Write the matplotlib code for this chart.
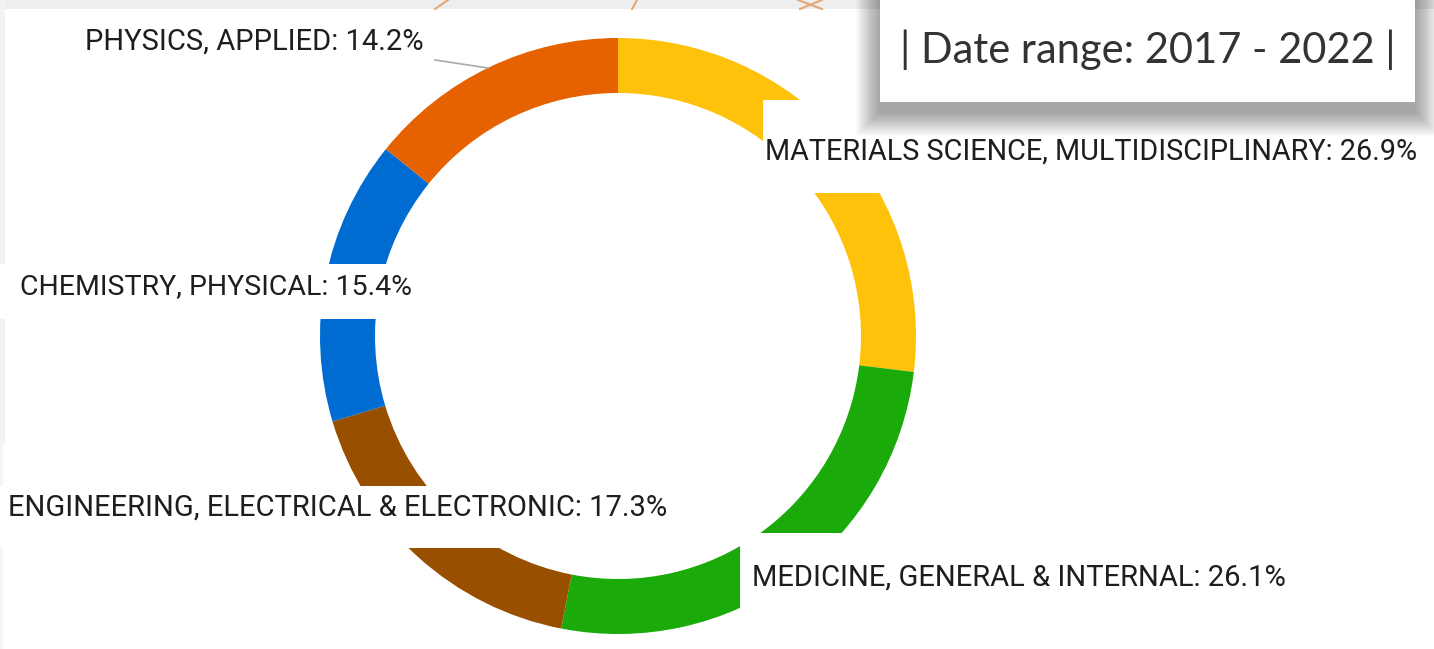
import matplotlib
matplotlib.use("Agg")
import matplotlib.pyplot as plt
from matplotlib.patches import Rectangle
from matplotlib.lines import Line2D

# --- data ---
categories = [
    "MATERIALS SCIENCE, MULTIDISCIPLINARY",
    "MEDICINE, GENERAL & INTERNAL",
    "ENGINEERING, ELECTRICAL & ELECTRONIC",
    "CHEMISTRY, PHYSICAL",
    "PHYSICS, APPLIED",
]
shares = [26.9, 26.1, 17.3, 15.4, 14.2]
colors = ["#FFC20A", "#1AAA0A", "#994F00", "#006CD1", "#E66100"]
date_range = "| Date range: 2017 - 2022 |"

W, H = 1434, 649
fig = plt.figure(figsize=(W / 100, H / 100), dpi=100)
fig.patch.set_facecolor("white")
ax = fig.add_axes([0, 0, 1, 1])

# ring (pixel coords, y pointing down)
cx, cy, R, ring_w = 618, 336, 298, 55
ax.pie(shares, colors=colors, startangle=-90, counterclock=True,
       center=(cx, cy), radius=R,
       wedgeprops=dict(width=ring_w, edgecolor="none", linewidth=0))
ax.set_xlim(0, W)
ax.set_ylim(H, 0)
ax.set_aspect("equal")
ax.axis("off")

# label layout: text anchor (x, y), font size and white background box (x0, y0, x1, y1)
label_font = ["Roboto", "DejaVu Sans"]
label_pos = [
    (765, 152, 20.7, (763, 100, 1434, 193)),
    (752, 578, 21, (740, 533, 1300, 630)),
    (8, 508, 21, (0, 486, 672, 548)),
    (20, 287, 20.5, (0, 264, 415, 319)),
    (85, 42, 21, None),
]
for name, val, (tx, ty, fs, box) in zip(categories, shares, label_pos):
    if box is not None:
        x0, y0, x1, y1 = box
        ax.add_patch(Rectangle((x0, y0), x1 - x0, y1 - y0, facecolor="white",
                               edgecolor="none", zorder=3))
    ax.text(tx, ty, f"{name}: {val}%", ha="left", va="center", fontsize=fs,
            family=label_font, color="#1e1e1e", zorder=4)

# leader line for the physics label
ax.plot([435, 488], [60, 68], color="#aaaaaa", lw=1.2, zorder=4)

# --- page background bits ---
ax.add_patch(Rectangle((0, 0), W, 9, facecolor="#eeeeee", edgecolor="none", zorder=0.5))
ax.add_patch(Rectangle((0, 0), 5, 443, facecolor="#f2f2f2", edgecolor="none", zorder=0.5))
ax.add_patch(Rectangle((0, 443), 3, H - 443, facecolor="#f5f5f5", edgecolor="none", zorder=0.5))
for xs, ys in [([435, 448], [9, 0]), ([632, 637], [9, 0]),
               ([798, 822], [0, 9]), ([800, 822], [9, 0])]:
    ax.add_line(Line2D(xs, ys, color="#e3a877", lw=1.5, zorder=0.6))

# date range box with soft shadow
bx0, by0, bx1, by1 = 880, 0, 1415, 102
for i in range(24):
    g = 24 - i
    ax.add_patch(Rectangle((bx0 - g, by0), bx1 - bx0 + 2 * g, by1 - by0 + g + 10,
                           facecolor="black", alpha=0.016, edgecolor="none", zorder=5))
ax.add_patch(Rectangle((bx0, by0), bx1 - bx0, by1 - by0, facecolor="white",
                       edgecolor="none", zorder=6))
ax.text((bx0 + bx1) / 2, 50, date_range, ha="center", va="center", fontsize=30,
        family=["Lato", "DejaVu Sans"], color="#333333", zorder=7)

fig.savefig("out.png", dpi=100)
